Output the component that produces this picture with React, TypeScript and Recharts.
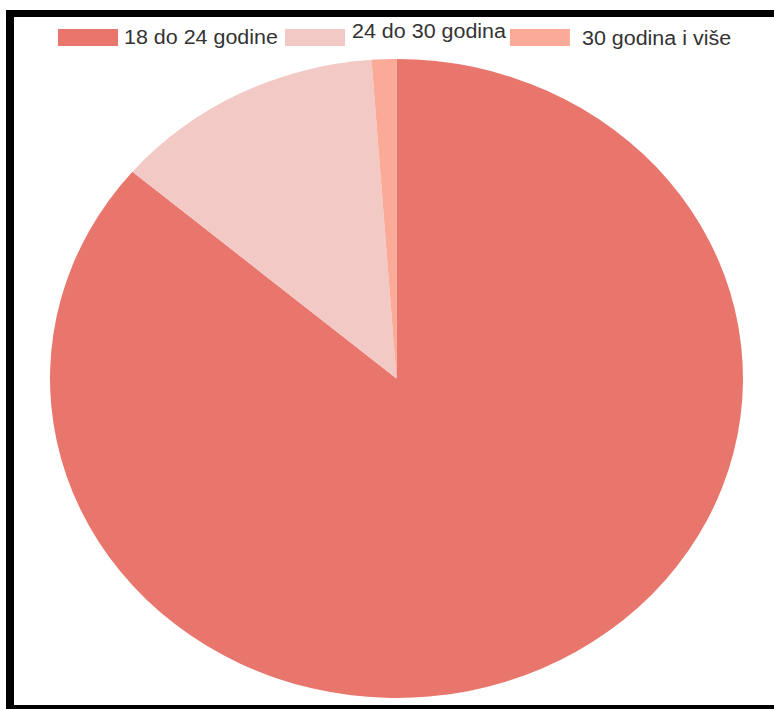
import React from 'react';
import { PieChart, Pie, Cell } from 'recharts';

// age groups and counts
const groups = ['18 do 24 godine', '24 do 30 godina', '30 godina i više'];
const counts = [75, 11, 1];
const colors = ['#E9766C', '#F3C9C5', '#FBAA97'];

const data = groups.map((name, i) => ({ name, value: counts[i] }));

// the original picture is stretched horizontally
const STRETCH = 1.0845;
const CHART_W = 701;
const CHART_H = 688;

// legend layout (unscaled px): swatch left, text left, text baseline
const legendItems = [
  { swatch: 40.6, text: 101.4, base: 27 },
  { swatch: 249.9, text: 311.7, base: 21 },
  { swatch: 457.3, text: 523.7, base: 28 },
];

function ChartLegend() {
  return (
    <svg
      width={CHART_W}
      height={40}
      style={{ position: 'absolute', left: 0, top: 0, pointerEvents: 'none' }}
    >
      {groups.map((name, i) => (
        <g key={name}>
          <rect x={legendItems[i].swatch} y={12} width={55.3} height={17} fill={colors[i]} />
          <text
            x={legendItems[i].text}
            y={legendItems[i].base}
            fontFamily="'Liberation Sans', Arial, sans-serif"
            fontSize={19.8}
            fill="#333"
          >
            {name}
          </text>
        </g>
      ))}
    </svg>
  );
}

export default function App() {
  return (
    <div style={{ position: 'fixed', left: 0, top: 0, width: 774, height: 709, overflow: 'hidden', background: '#fff' }}>
      <div
        style={{
          position: 'absolute',
          left: 6,
          top: 10,
          width: 800,
          height: 688,
          borderLeft: '8px solid #000',
          borderTop: '7px solid #000',
          borderBottom: '8px solid #000',
        }}
      >
        <div
          style={{
            position: 'relative',
            width: CHART_W,
            height: CHART_H,
            transform: `scaleX(${STRETCH})`,
            transformOrigin: '0 0',
          }}
        >
          <PieChart width={CHART_W} height={CHART_H} margin={{ top: 0, right: 0, bottom: 0, left: 0 }}>
            <Pie
              data={data}
              dataKey="value"
              nameKey="name"
              cx={352.7}
              cy={361.5}
              outerRadius={319.5}
              startAngle={90}
              endAngle={-270}
              stroke="none"
              isAnimationActive={false}
            >
              {data.map((d, i) => (
                <Cell key={d.name} fill={colors[i]} />
              ))}
            </Pie>
          </PieChart>
          <ChartLegend />
        </div>
      </div>
    </div>
  );
}
